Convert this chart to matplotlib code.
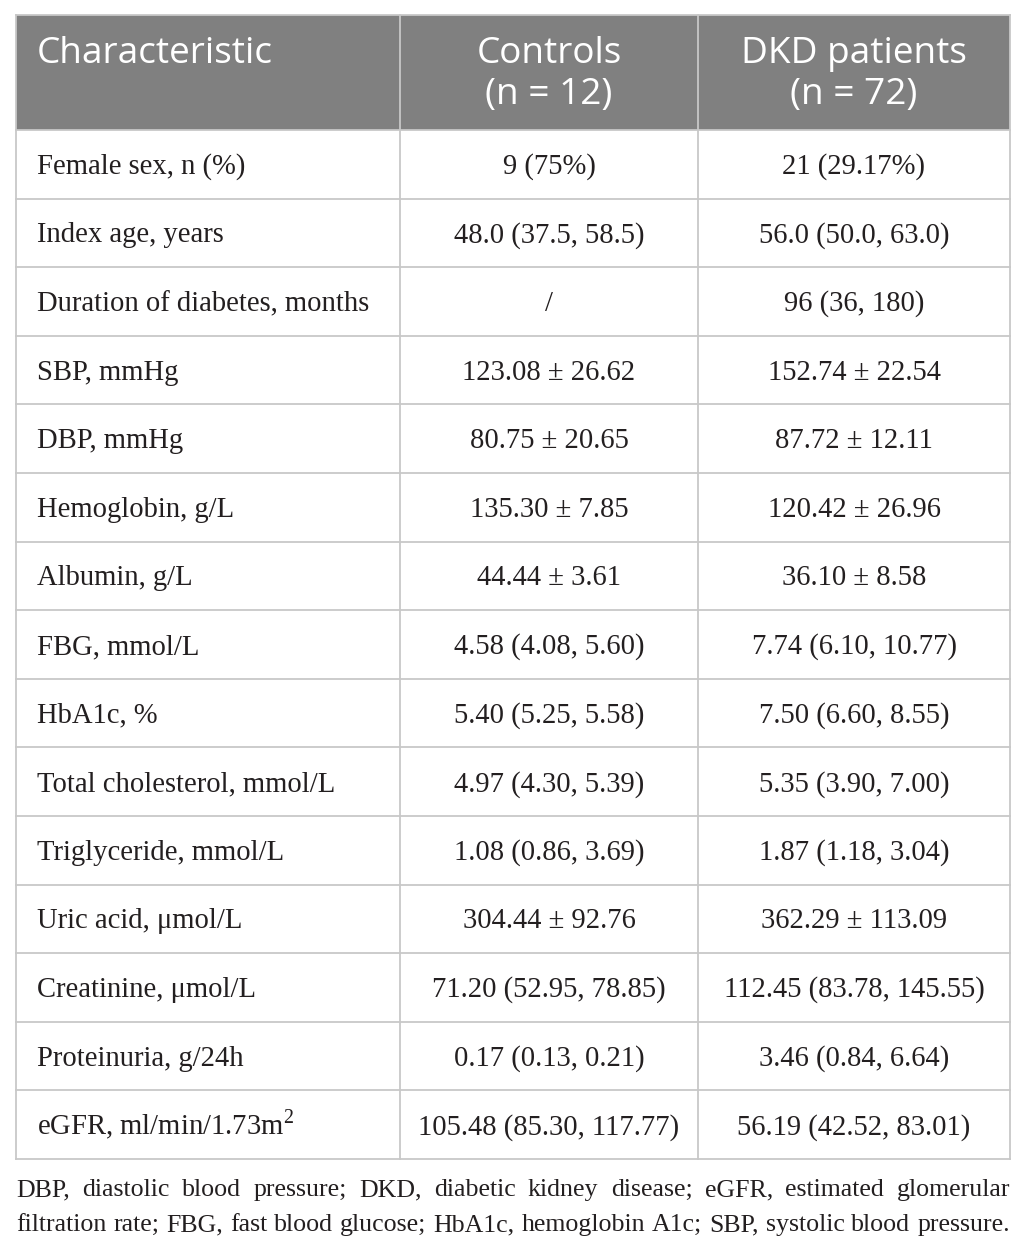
import matplotlib
matplotlib.use("Agg")
import matplotlib.pyplot as plt

# ---------------- data ----------------
header = ["Characteristic", ["Controls", "(n = 12)"], ["DKD patients", "(n = 72)"]]
characteristics = [
    "Female sex, n (%)",
    "Index age, years",
    "Duration of diabetes, months",
    "SBP, mmHg",
    "DBP, mmHg",
    "Hemoglobin, g/L",
    "Albumin, g/L",
    "FBG, mmol/L",
    "HbA1c, %",
    "Total cholesterol, mmol/L",
    "Triglyceride, mmol/L",
    "Uric acid, \u03bcmol/L",
    "Creatinine, \u03bcmol/L",
    "Proteinuria, g/24h",
    r"eGFR, ml/min/1.73m$^{\mathregular{2}}$",
]
controls = [
    "9 (75%)",
    "48.0 (37.5, 58.5)",
    "/",
    "123.08 \u00b1 26.62",
    "80.75 \u00b1 20.65",
    "135.30 \u00b1 7.85",
    "44.44 \u00b1 3.61",
    "4.58 (4.08, 5.60)",
    "5.40 (5.25, 5.58)",
    "4.97 (4.30, 5.39)",
    "1.08 (0.86, 3.69)",
    "304.44 \u00b1 92.76",
    "71.20 (52.95, 78.85)",
    "0.17 (0.13, 0.21)",
    "105.48 (85.30, 117.77)",
]
dkd_patients = [
    "21 (29.17%)",
    "56.0 (50.0, 63.0)",
    "96 (36, 180)",
    "152.74 \u00b1 22.54",
    "87.72 \u00b1 12.11",
    "120.42 \u00b1 26.96",
    "36.10 \u00b1 8.58",
    "7.74 (6.10, 10.77)",
    "7.50 (6.60, 8.55)",
    "5.35 (3.90, 7.00)",
    "1.87 (1.18, 3.04)",
    "362.29 \u00b1 113.09",
    "112.45 (83.78, 145.55)",
    "3.46 (0.84, 6.64)",
    "56.19 (42.52, 83.01)",
]
footnote_lines = [
    "DBP, diastolic blood pressure; DKD, diabetic kidney disease; eGFR, estimated glomerular",
    "filtration rate; FBG, fast blood glucose; HbA1c, hemoglobin A1c; SBP, systolic blood pressure.",
]

# ---------------- layout ----------------
W, H = 1026, 1252
plt.rcParams["mathtext.fontset"] = "stix"
fig = plt.figure(figsize=(W / 100, H / 100), dpi=100)
ax = fig.add_axes([0, 0, 1, 1])
ax.set_xlim(0, W)
ax.set_ylim(H, 0)
ax.axis("off")

LEFT, RIGHT = 16, 1010
COLS = [LEFT, 400, 698, RIGHT]
TOP, HEAD_BOT, BOT = 15, 130, 1159
n = len(characteristics)
row_h = (BOT - HEAD_BOT) / n

HEAD_BG = "#808080"
GRID = "#c8c8c8"
TXT = "#231f20"
SANS = "Open Sans"
SERIF = "Liberation Serif"

fig.canvas.draw()
rend = fig.canvas.get_renderer()


def text_w(s, **kw):
    t = ax.text(0, 0, s, va="baseline", **kw)
    w = t.get_window_extent(rend).width
    t.remove()
    return w


# fit font sizes to measured widths in reference
hs = 20 * 236 / text_w("Characteristic", family=SANS, fontsize=20)
bs = 1.015 * 20 * 206 / text_w("Female sex, n (%)", family=SERIF, fontsize=20)
cap_h = 0.662 * bs * 100 / 72

# header background
ax.add_patch(plt.Rectangle((LEFT, TOP), RIGHT - LEFT, HEAD_BOT - TOP,
                           facecolor=HEAD_BG, edgecolor="none", zorder=0))

# grid lines
lw = 1.3
for i in range(n + 1):
    y = HEAD_BOT + i * row_h
    ax.plot([LEFT, RIGHT], [y, y], color=GRID, lw=lw, zorder=2, solid_capstyle="projecting")
ax.plot([LEFT, RIGHT], [TOP, TOP], color=GRID, lw=lw, zorder=2)
for x in COLS:
    ax.plot([x, x], [TOP, BOT], color=GRID, lw=lw, zorder=2)

# header text
ax.text(37, 63, header[0], family=SANS, fontsize=hs, color="white",
        ha="left", va="baseline", zorder=3)
for j, lines in enumerate(header[1:], start=1):
    cx = (COLS[j] + COLS[j + 1]) / 2
    for k, ln in enumerate(lines):
        ax.text(cx, 63 + 41 * k, ln, family=SANS, fontsize=hs, color="white",
                ha="center", va="baseline", zorder=3)

# body
for i in range(n):
    base = HEAD_BOT + (i + 0.5) * row_h + cap_h / 2
    ax.text(37, base, characteristics[i], family=SERIF, fontsize=bs, color=TXT,
            ha="left", va="baseline", zorder=3)
    for j, col in enumerate([controls, dkd_patients], start=1):
        cx = (COLS[j] + COLS[j + 1]) / 2
        ax.text(cx, base, col[i], family=SERIF, fontsize=bs, color=TXT,
                ha="center", va="baseline", zorder=3)

# footnote, justified
fs = bs
need = max(text_w(l, family=SERIF, fontsize=fs) for l in footnote_lines)
if need > (RIGHT - LEFT) * 0.995:
    fs = fs * (RIGHT - LEFT) * 0.995 / need
for k, line in enumerate(footnote_lines):
    words = line.split(" ")
    ww = [text_w(w, family=SERIF, fontsize=fs) for w in words]
    gap = (RIGHT - LEFT - sum(ww)) / (len(words) - 1)
    x = LEFT
    y = 1196 + 35 * k
    for w, wd in zip(words, ww):
        ax.text(x, y, w, family=SERIF, fontsize=fs, color=TXT,
                ha="left", va="baseline", zorder=3)
        x += wd + gap

fig.savefig("out.png", dpi=100, facecolor="white")
